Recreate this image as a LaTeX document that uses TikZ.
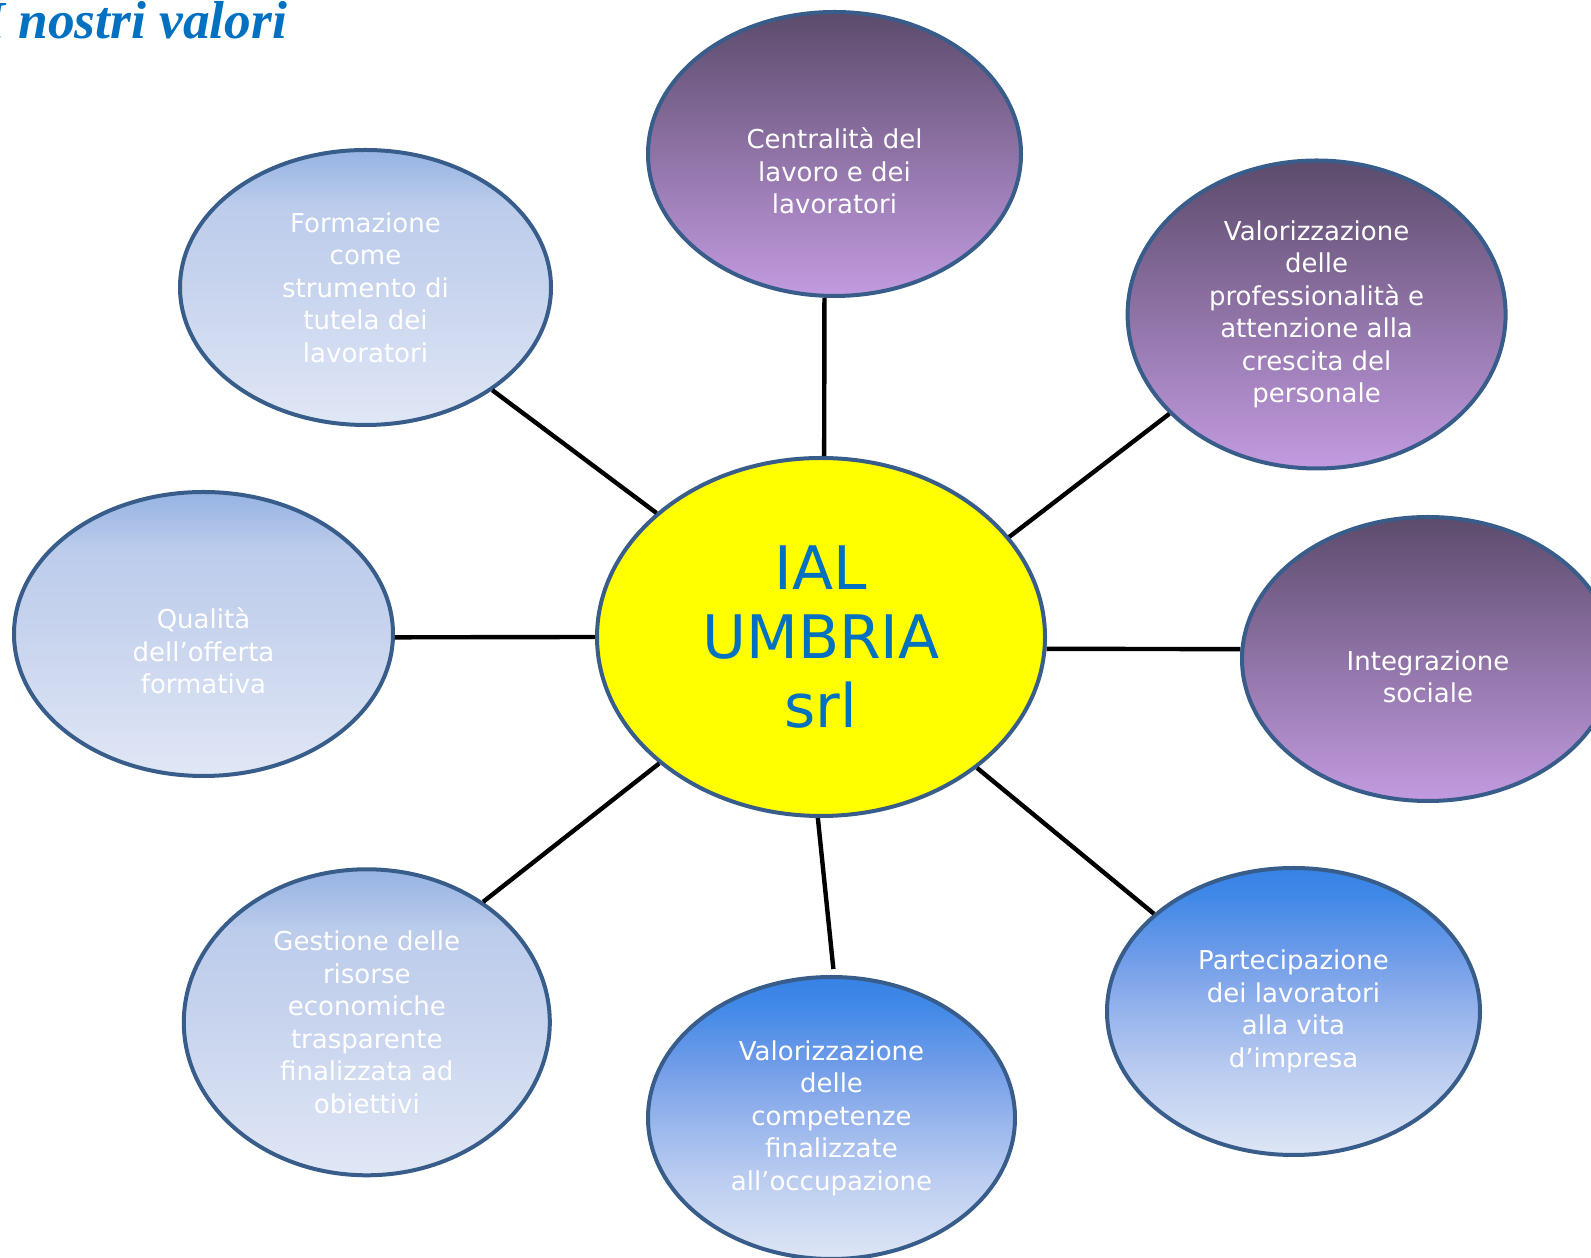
\documentclass[tikz,border=0pt]{standalone}
\usepackage{fontspec}
\setmainfont{DejaVu Sans}
\newfontfamily\titlefont{Liberation Serif}
\usepackage{tikz}
\usetikzlibrary{shapes.geometric}

\definecolor{bordo}{RGB}{56,93,138}
\definecolor{blutesto}{RGB}{0,112,192}
\definecolor{giallo}{RGB}{255,255,0}
\definecolor{violasu}{RGB}{92,75,108}
\definecolor{violagiu}{RGB}{194,155,224}

% sfumature: il riquadro del tracciato va da 25bp a 75bp
\pgfdeclareverticalshading{celesteshade}{100bp}{%
  color(0bp)=(rgb,255:red,224;green,231;blue,245);
  color(25bp)=(rgb,255:red,224;green,231;blue,245);
  color(50bp)=(rgb,255:red,200;green,212;blue,238);
  color(65bp)=(rgb,255:red,188;green,204;blue,235);
  color(70bp)=(rgb,255:red,168;green,191;blue,231);
  color(75bp)=(rgb,255:red,150;green,180;blue,228);
  color(100bp)=(rgb,255:red,150;green,180;blue,228)}
\pgfdeclareverticalshading{azzurroshade}{100bp}{%
  color(0bp)=(rgb,255:red,222;green,230;blue,245);
  color(25bp)=(rgb,255:red,222;green,230;blue,245);
  color(40bp)=(rgb,255:red,185;green,203;blue,240);
  color(50bp)=(rgb,255:red,150;green,180;blue,236);
  color(60bp)=(rgb,255:red,110;green,155;blue,232);
  color(70bp)=(rgb,255:red,65;green,137;blue,231);
  color(75bp)=(rgb,255:red,55;green,130;blue,230);
  color(100bp)=(rgb,255:red,55;green,130;blue,230)}

\begin{document}
\begin{tikzpicture}
          [x=0.5pt,y=0.5pt,
          font=\fontsize{13}{16.25}\selectfont,
          valore/.style={shape=ellipse,draw=bordo,line width=2pt,text=white,align=center,inner sep=0pt},
          viola/.style={valore,top color=violasu,bottom color=violagiu},
          celeste/.style={valore,shading=celesteshade},
          azzurro/.style={valore,shading=azzurroshade},
          spoke/.style={-,line width=2.2pt,black}]

            \useasboundingbox (0,0) rectangle (1591,1258);

            \node (titolo) [anchor=base west,inner sep=0pt,text=blutesto,
              font=\titlefont\bfseries\itshape\fontsize{26.7}{32}\selectfont] at (-16,1219) {I nostri valori};

            \node (ial) [valore,fill=giallo,text=blutesto,font=\fontsize{30}{34.5}\selectfont,
              minimum width=224pt,minimum height=179pt] at (821,621) {IAL\\UMBRIA\\srl};
            \node (central) [viola,minimum width=186.5pt,minimum height=142pt] at (834.5,1104)
              {\strut\\Centralità del\\lavoro e dei\\lavoratori};
            \node (profess) [viola,minimum width=189pt,minimum height=154pt] at (1316.6,943.5)
              {Valorizzazione\\delle\\professionalità e\\attenzione alla\\crescita del\\personale};
            \node (integ) [viola,minimum width=186pt,minimum height=142pt] at (1428,599)
              {\strut\\Integrazione\\sociale};
            \node (formaz) [celeste,minimum width=185.5pt,minimum height=137.5pt] at (365.5,970.5)
              {Formazione\\come\\strumento di\\tutela dei\\lavoratori};
            \node (qualita) [celeste,minimum width=189.5pt,minimum height=142pt] at (203.5,624)
              {\strut\\Qualità\\dell’offerta\\formativa};
            \node (gestione) [celeste,minimum width=183pt,minimum height=153pt] at (366.8,235.7)
              {Gestione delle\\risorse\\economiche\\trasparente\\finalizzata ad\\obiettivi};
            \node (compet) [azzurro,minimum width=183.5pt,minimum height=141pt] at (831.5,140)
              {Valorizzazione\\delle\\competenze\\finalizzate\\all’occupazione};
            \node (partec) [azzurro,minimum width=186.5pt,minimum height=143.5pt] at (1293.5,246.5)
              {Partecipazione\\dei lavoratori\\alla vita\\d’impresa};

          \draw [spoke] (ial.89) to (central.266);
          \draw [spoke] (ial.143) to (formaz.321);
          \draw [spoke] (ial.28) to (profess.214);
          \draw [spoke] (ial.180) to (qualita.359);
          \draw [spoke] (ial.357) to (integ.177);
          \draw [spoke] (ial.218) to (gestione.46);
          \draw [spoke,shorten >=3pt] (ial.269) to (compet.89);
          \draw [spoke] (ial.320) to (partec.145);

        \end{tikzpicture}
\end{document}
